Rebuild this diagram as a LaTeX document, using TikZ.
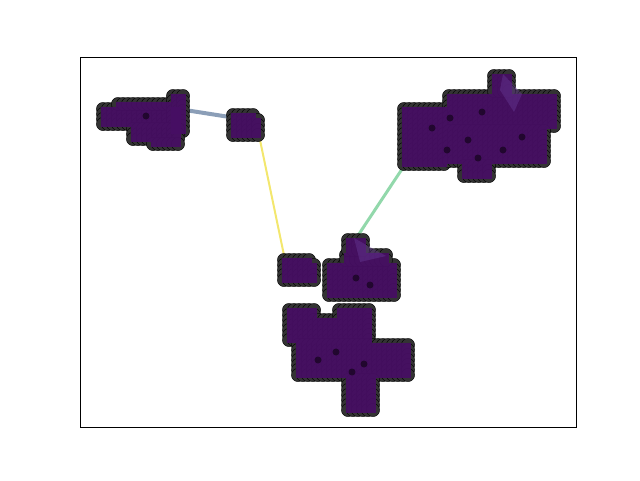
\documentclass[tikz,border=0pt]{standalone}
\usepackage{tikz}

\definecolor{nodegray}{HTML}{333333}
\definecolor{blobpurple}{HTML}{470E64}
\definecolor{linkviolet}{HTML}{6A3D9A}
\definecolor{edgeblue}{HTML}{7E93AF}
\definecolor{edgeyellow}{HTML}{F2E45E}
\definecolor{edgegreen}{HTML}{86D4A2}

\tikzset{
  nodedot/.style={fill=nodegray,draw=black,line width=0.4pt},
  blobfill/.style={fill=blobpurple,fill opacity=0.92},
  spotdot/.style={fill=black,fill opacity=0.5},
  linkedge/.style={line cap=round,opacity=0.9}
}

% grid of nodes, centres from (#1,#2) to (#3,#4), step 5
\newcommand\blobdots[4]{%
  \pgfmathtruncatemacro\nx{round((#3-#1)/5)}%
  \pgfmathtruncatemacro\ny{round((#4-#2)/5)}%
  \foreach \i in {0,...,\nx}{\foreach \j in {0,...,\ny}{%
    \draw[nodedot] ({#1+5*\i},{#2+5*\j}) circle (6.6);}}%
}
\newcommand\blobfill[4]{%
  \pgfmathtruncatemacro\nx{round((#3-#1)/5)}%
  \pgfmathtruncatemacro\ny{round((#4-#2)/5)}%
  \fill[blobfill] ({#1-2.5},{#2-2.5}) rectangle ({#1+5*\nx+2.5},{#2+5*\ny+2.5});%
}

% one cluster: all dots first, then the fills
\newcommand\cluster[1]{%
  \foreach \xa/\ya/\xb/\yb in {#1} {\blobdots{\xa}{\ya}{\xb}{\yb}}%
  \foreach \xa/\ya/\xb/\yb in {#1} {\blobfill{\xa}{\ya}{\xb}{\yb}}%
}

\begin{document}
\begin{tikzpicture}[x=1pt,y=-1pt]
\useasboundingbox (0,0) rectangle (640,480);

% links between clusters
\coordinate (a1) at (185,110);
\coordinate (b1) at (236,118);
\coordinate (b2) at (260,140);
\coordinate (d1) at (285,260);
\coordinate (c1) at (408,160);
\coordinate (d2) at (355,240);
\draw[linkedge,edgeblue,line width=4pt] (a1) -- (b1);
\draw[linkedge,edgeyellow,line width=2pt] (b2) -- (d1);
\draw[linkedge,edgegreen,line width=3pt] (c1) -- (d2);

% node clusters
\cluster{103/109/178/124,118/104/168/104,173/96/183/131,133/129/178/139,153/144/178/144}
\cluster{233/115/253/135,258/120/258/135}
\cluster{404/109/444/164,449/96/554/126,449/131/544/161,464/166/489/176,494/76/509/91}
\cluster{284/260/309/280,314/265/314/280,329/265/394/295,346/255/386/260,348/240/363/250}
\cluster{289/310/314/340,319/320/334/340,339/310/369/340,298/345/408/375,348/380/373/410}

% inner links
\fill[linkviolet,opacity=0.4] (354,238) -- (386,256) -- (360,262) -- cycle;
\fill[linkviolet,opacity=0.4] (503,74) -- (522,94) -- (514,112) -- (500,90) -- cycle;

% dark spots
\foreach \sx/\sy in {432/128,447/150,468/140,478/158,503/150,522/137,482/112,450/118,356/278,370/285,336/352,352/372,364/364,318/360,146/116}
  \fill[spotdot] (\sx,\sy) circle (3.5);

% axes frame
\draw[line width=0.8pt] (80,57.6) rectangle (576,427.2);
\end{tikzpicture}
\end{document}
